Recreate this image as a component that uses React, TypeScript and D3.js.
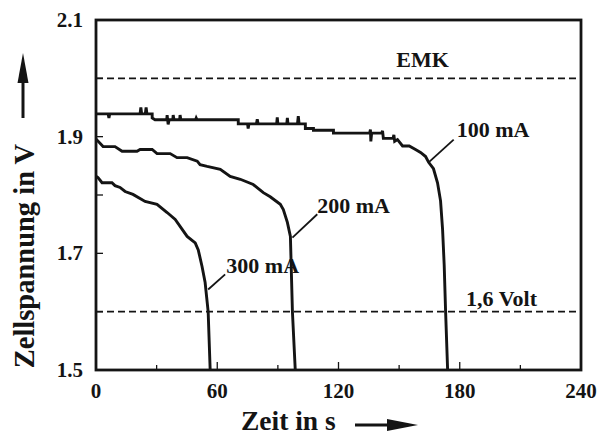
import React from 'react';
import * as d3 from 'd3';

// Zeit (s) / Zellspannung (V)
const t100 = [0, 6, 6.4, 6.8, 21.8, 22.2, 22.6, 24.4, 24.8, 25.2, 27.8, 27.8, 29.2, 35, 35.2, 35.7, 36.2, 38, 38.2, 38.6, 41.4, 41.6, 42, 49.3, 49.6, 50, 70.4, 70.4, 75, 75.3, 75.7, 79.4, 79.8, 80.2, 89.4, 89.7, 90, 94.4, 94.7, 95, 99.7, 100.1, 100.5, 103.6, 103.6, 107.6, 107.6, 117.5, 117.5, 135.4, 135.8, 136, 136.4, 141.4, 141.8, 142.2, 147, 147.4, 147.8, 149.2, 151.7, 155, 158.1, 160.6, 163.1, 164.6, 167, 169, 170.5, 171.5, 172.3, 173, 174];
const v100 = [1.939, 1.939, 1.932, 1.939, 1.939, 1.95, 1.939, 1.939, 1.95, 1.939, 1.939, 1.932, 1.929, 1.929, 1.937, 1.921, 1.929, 1.929, 1.937, 1.929, 1.929, 1.937, 1.929, 1.929, 1.932, 1.929, 1.929, 1.922, 1.922, 1.914, 1.922, 1.922, 1.93, 1.922, 1.922, 1.933, 1.922, 1.922, 1.932, 1.922, 1.922, 1.935, 1.922, 1.922, 1.914, 1.914, 1.911, 1.911, 1.906, 1.906, 1.912, 1.892, 1.906, 1.906, 1.91, 1.897, 1.897, 1.903, 1.892, 1.895, 1.884, 1.884, 1.878, 1.873, 1.866, 1.856, 1.845, 1.821, 1.79, 1.741, 1.68, 1.6, 1.5];

const t200 = [0, 0.3, 3.5, 9.4, 12.9, 20.3, 21.8, 27.8, 30.2, 36.7, 40.1, 45.1, 50.1, 51.5, 55, 61.5, 66.4, 71.4, 77.8, 82.8, 86.2, 91.2, 92.7, 94.7, 96.2, 97.2, 98.6];
const v200 = [1.895, 1.895, 1.883, 1.883, 1.875, 1.875, 1.878, 1.878, 1.871, 1.871, 1.864, 1.864, 1.858, 1.852, 1.849, 1.844, 1.832, 1.827, 1.818, 1.804, 1.797, 1.784, 1.775, 1.753, 1.729, 1.6, 1.5];

const t300 = [0, 1, 3, 7.9, 9.4, 11.9, 14.4, 18.3, 24.3, 30.2, 35.2, 39.2, 45.1, 49.1, 50.6, 52.5, 54, 55.5, 56.5];
const v300 = [1.832, 1.83, 1.821, 1.821, 1.816, 1.813, 1.806, 1.801, 1.789, 1.784, 1.77, 1.758, 1.729, 1.718, 1.706, 1.677, 1.65, 1.6, 1.5];

const xTicks = [0, 60, 120, 180, 240];
const xMinor = [30, 90, 150, 210];
const yTicks = [1.5, 1.7, 1.9, 2.1];
const yMinor = [1.6, 1.8, 2.0];
const refLines = [2.0, 1.6];

// labels: text, leader from (t1,v1) to (t2,v2), text start (tx,tv)
const labels = [
  { text: '100 mA', t1: 177, v1: 1.895, t2: 164.6, v2: 1.856, tx: 178.5, tv: 1.9 },
  { text: '200 mA', t1: 109.5, v1: 1.767, t2: 97.2, v2: 1.727, tx: 109.5, tv: 1.77 },
  { text: '300 mA', t1: 63.9, v1: 1.664, t2: 55.5, v2: 1.638, tx: 64.5, tv: 1.667 },
];

const font = '"Liberation Serif", "Times New Roman", serif';

export default function App() {
  const x = d3.scaleLinear().domain([0, 240]).range([96, 581]);
  const y = d3.scaleLinear().domain([1.5, 2.1]).range([370, 20]);
  const line = d3.line<[number, number]>().x(d => x(d[0])).y(d => y(d[1]));
  const series = [
    t100.map((t, i) => [t, v100[i]] as [number, number]),
    t200.map((t, i) => [t, v200[i]] as [number, number]),
    t300.map((t, i) => [t, v300[i]] as [number, number]),
  ];
  const ink = '#141414';

  return (
    <svg width={601} height={435} style={{ position: 'absolute', left: 0, top: 0, background: '#fff' }}
      fontFamily={font} fontWeight="bold">
      {refLines.map(v => (
        <line key={v} x1={x(0)} x2={x(240)} y1={y(v)} y2={y(v)} stroke={ink} strokeWidth={1.8} strokeDasharray="7,4" />
      ))}
      {xTicks.map(t => (
        <g key={t}>
          <line x1={x(t)} x2={x(t)} y1={y(1.5)} y2={y(1.5) - 8} stroke={ink} strokeWidth={1.3} />
          <text x={x(t)} y={398} textAnchor="middle" fontSize={21} fill={ink}>{t}</text>
        </g>
      ))}
      {xMinor.map(t => (
        <line key={t} x1={x(t)} x2={x(t)} y1={y(1.5)} y2={y(1.5) - 5} stroke={ink} strokeWidth={1.3} />
      ))}
      {yTicks.concat(yMinor).map(v => (
        <line key={v} x1={x(0)} x2={x(0) + 7} y1={y(v)} y2={y(v)} stroke={ink} strokeWidth={1.3} />
      ))}
      {yTicks.map(v => (
        <text key={v} x={83} y={y(v) + 7} textAnchor="end" fontSize={21} fill={ink}>{v.toFixed(1)}</text>
      ))}
      {series.map((s, i) => (
        <path key={i} d={line(s) || ''} fill="none" stroke={ink} strokeWidth={2.9} strokeLinejoin="miter" />
      ))}
      {labels.map(l => (
        <g key={l.text}>
          <line x1={x(l.t1)} y1={y(l.v1)} x2={x(l.t2)} y2={y(l.v2)} stroke={ink} strokeWidth={1.8} />
          <text x={x(l.tx)} y={y(l.tv)} fontSize={22} fill={ink}>{l.text}</text>
        </g>
      ))}
      <text x={x(161.6)} y={y(2.019)} textAnchor="middle" fontSize={22} fill={ink}>EMK</text>
      <text x={x(200.7)} y={y(1.61)} textAnchor="middle" fontSize={22} fill={ink}>1,6 Volt</text>
      <rect x={x(0)} y={y(2.1)} width={x(240) - x(0)} height={y(1.5) - y(2.1)} fill="none" stroke={ink} strokeWidth={2.8} />
      {/* axis titles with arrows */}
      <text x={241} y={430} fontSize={27.5} fill={ink}>Zeit in s</text>
      <line x1={355} x2={390} y1={425} y2={425} stroke={ink} strokeWidth={3} />
      <path d="M 387 419 L 418 425 L 387 431 Z" fill={ink} />
      <text transform="translate(34,256) rotate(-90)" textAnchor="middle" fontSize={28.5} fill={ink}>Zellspannung in V</text>
      <line x1={23} x2={23} y1={118} y2={80} stroke={ink} strokeWidth={3} />
      <path d="M 17.5 83 L 23 53 L 28.5 83 Z" fill={ink} />
    </svg>
  );
}
